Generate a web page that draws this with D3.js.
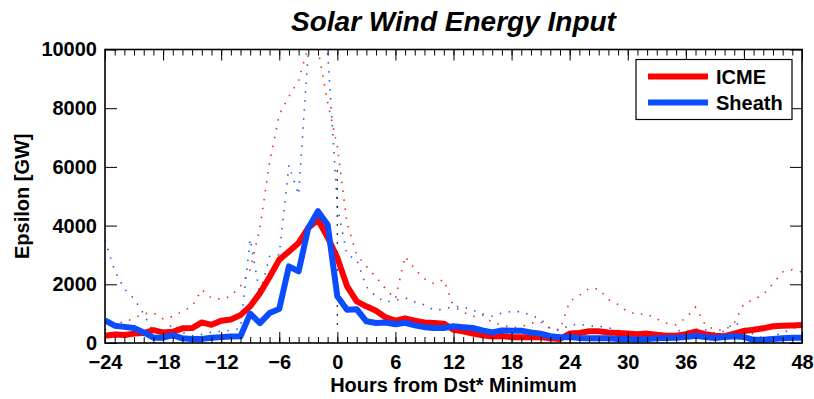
<!DOCTYPE html>
<html>
<head>
<meta charset="utf-8">
<script src="https://cdn.jsdelivr.net/npm/d3@7"></script>
<style>
  body { margin: 0; background: #fff; }
  text { font-family: "Liberation Sans", Arial, sans-serif; font-weight: bold; }
</style>
</head>
<body>
<div id="chart"></div>
<script>

// hours from Dst* minimum, -24 .. 48
var hours = d3.range(-24, 49);

// ICME median epsilon (GW)
var icme = [250, 290, 270, 320, 340, 440, 360, 380, 500, 510, 700, 620, 760, 800, 950,
  1250, 1700, 2250, 2840, 3120, 3410, 3920, 4200, 3600, 2900, 1940, 1420, 1250, 1100, 870,
  760, 840, 760, 700, 680, 660, 450, 400, 320, 260, 220, 240, 200, 200, 200, 200, 160,
  140, 320, 340, 400, 400, 360, 340, 320, 300, 320, 280, 250, 250, 300, 390, 300, 250,
  230, 320, 410, 450, 500, 570, 590, 600, 610];

// Sheath median epsilon (GW)
var sheath = [770, 590, 550, 510, 360, 180, 180, 270, 160, 140, 140, 180, 200, 220, 230,
  1000, 680, 1020, 1160, 2610, 2440, 3920, 4490, 4030, 1590, 1130, 1150, 740, 680, 700,
  640, 690, 600, 540, 510, 510, 570, 540, 510, 430, 360, 430, 420, 420, 360, 320, 230,
  200, 200, 170, 160, 160, 160, 140, 140, 120, 140, 160, 170, 180, 200, 250, 200, 170,
  200, 230, 200, 110, 110, 140, 160, 180, 180];

// upper spread (dotted) for each group
var icmeUpper = [450, 700, 700, 850, 1000, 1030, 820, 900, 1080, 1250, 1820, 1530, 1500,
  1590, 1950, 2500, 3920, 6150, 7780, 8400, 8950, 10100, 10000, 8200, 6700, 4090, 3010,
  2610, 2240, 1840, 1500, 2950, 2520, 2190, 2020, 2160, 1250, 1050, 900, 950, 700, 620,
  520, 550, 680, 720, 490, 450, 1420, 1620, 1860, 1840, 1480, 1310, 1060, 980, 980, 820,
  680, 620, 850, 1220, 620, 450, 430, 680, 1340, 1480, 1650, 2020, 2420, 2500, 2420];

var sheathUpper = [3500, 2470, 1840, 1510, 990, 360, 280, 660, 360, 250, 290, 370, 400,
  430, 500, 3540, 1650, 2950, 3010, 6060, 5050, 9950, 10300, 9900, 4660, 3010, 2840,
  1910, 1570, 1400, 1450, 1540, 1400, 1300, 1120, 1150, 1250, 1230, 1120, 990, 910, 1020,
  1070, 1070, 940, 820, 490, 430, 610, 640, 580, 570, 520, 430, 320, 300, 300, 200, 220,
  430, 400, 470, 450, 340, 400, 700, 530, 290, 160, 230, 340, 500, 570];

// black dotted marker at hour 0
var markerHours = [0, 0];
var markerValues = [620, 6000];

var xTicks = [-24, -18, -12, -6, 0, 6, 12, 18, 24, 30, 36, 42, 48];
var yTicks = [0, 2000, 4000, 6000, 8000, 10000];
var legendNames = ["ICME", "Sheath"];

var svgWidth = 814;
var svgHeight = 399;

var margin = { top: 49.5, bottom: 56, right: 12, left: 105 };
var chartWidth = svgWidth - margin.left - margin.right;
var chartHeight = svgHeight - margin.top - margin.bottom;

var svg = d3.select("#chart")
  .append("svg")
  .attr("width", svgWidth)
  .attr("height", svgHeight);

var chartGroup = svg.append("g")
  .attr("transform", `translate(${margin.left},${margin.top})`);

var xScale = d3.scaleLinear().domain([-24, 48]).range([0, chartWidth]);
var yScale = d3.scaleLinear().domain([0, 10000]).range([chartHeight, 0]);

chartGroup.append("clipPath")
  .attr("id", "plotclip")
  .append("rect")
  .attr("width", chartWidth)
  .attr("height", chartHeight);

var plot = chartGroup.append("g").attr("clip-path", "url(#plotclip)");

var line = d3.line()
  .x(d => xScale(d[0]))
  .y(d => yScale(d[1]));

// dotted spreads first
plot.append("path")
  .datum(d3.zip(hours, icmeUpper))
  .attr("d", line)
  .attr("fill", "none")
  .attr("stroke", "#ff2020")
  .attr("stroke-width", 1.6)
  .attr("stroke-dasharray", "1.5,7.5");

plot.append("path")
  .datum(d3.zip(hours, sheathUpper))
  .attr("d", line)
  .attr("fill", "none")
  .attr("stroke", "#1f58ff")
  .attr("stroke-width", 1.6)
  .attr("stroke-dasharray", "1.5,7.5");

plot.append("path")
  .datum(d3.zip(markerHours, markerValues))
  .attr("d", line)
  .attr("fill", "none")
  .attr("stroke", "#000")
  .attr("stroke-width", 1.4)
  .attr("stroke-dasharray", "1.5,7.5");

// medians
plot.append("path")
  .datum(d3.zip(hours, icme))
  .attr("d", line)
  .attr("fill", "none")
  .attr("stroke", "#ff0000")
  .attr("stroke-width", 6)
  .attr("stroke-linejoin", "round");

plot.append("path")
  .datum(d3.zip(hours, sheath))
  .attr("d", line)
  .attr("fill", "none")
  .attr("stroke", "#0a4cff")
  .attr("stroke-width", 6)
  .attr("stroke-linejoin", "round");

// axes: ticks pointing inward on all four sides
var bottomAxis = d3.axisBottom(xScale).tickValues(xTicks).tickSize(-11).tickPadding(12)
  .tickFormat(d => d < 0 ? "\u2212" + Math.abs(d) : String(d));
var bottomMinor = d3.axisBottom(xScale).tickValues(hours).tickSize(-6).tickFormat("");
var topAxis = d3.axisTop(xScale).tickValues(xTicks).tickSize(-11).tickFormat("");
var topMinor = d3.axisTop(xScale).tickValues(hours).tickSize(-6).tickFormat("");
var leftAxis = d3.axisLeft(yScale).tickValues(yTicks).tickSize(-12).tickPadding(8)
  .tickFormat(d3.format("d"));
var rightAxis = d3.axisRight(yScale).tickValues(yTicks).tickSize(-12).tickFormat("");

function styleAxis(g) {
  g.select(".domain").remove();
  g.selectAll("line").attr("stroke", "#000").attr("stroke-width", 1);
  g.selectAll("text").attr("font-size", "20px").attr("fill", "#000");
}

chartGroup.append("g").attr("transform", `translate(0,${chartHeight})`).call(bottomMinor).call(styleAxis);
chartGroup.append("g").attr("transform", `translate(0,${chartHeight})`).call(bottomAxis).call(styleAxis);
chartGroup.append("g").call(topMinor).call(styleAxis);
chartGroup.append("g").call(topAxis).call(styleAxis);
chartGroup.append("g").call(leftAxis).call(styleAxis);
chartGroup.append("g").attr("transform", `translate(${chartWidth},0)`).call(rightAxis).call(styleAxis);

chartGroup.selectAll(".tick text").attr("font-family", "'Liberation Sans', Arial, sans-serif");

// frame
chartGroup.append("rect")
  .attr("width", chartWidth)
  .attr("height", chartHeight)
  .attr("fill", "none")
  .attr("stroke", "#000")
  .attr("stroke-width", 1.6);

// legend
var legend = chartGroup.append("g")
  .attr("transform", `translate(${chartWidth - 166},${10})`);

legend.append("rect")
  .attr("width", 156)
  .attr("height", 60)
  .attr("fill", "#fff")
  .attr("stroke", "#000")
  .attr("stroke-width", 1.2);

var legendColors = ["#ff0000", "#0a4cff"];
legendNames.forEach(function(name, i) {
  legend.append("line")
    .attr("x1", 12).attr("x2", 72)
    .attr("y1", 17 + i * 26).attr("y2", 17 + i * 26)
    .attr("stroke", legendColors[i])
    .attr("stroke-width", 6);
  legend.append("text")
    .attr("x", 80)
    .attr("y", 17 + i * 26)
    .attr("dy", "0.36em")
    .attr("font-size", "20px")
    .text(name);
});

// titles
svg.append("text")
  .attr("x", margin.left + chartWidth / 2)
  .attr("y", 31)
  .attr("text-anchor", "middle")
  .attr("font-size", "28px")
  .attr("font-style", "italic")
  .text("Solar Wind Energy Input");

svg.append("text")
  .attr("x", margin.left + chartWidth / 2)
  .attr("y", 392)
  .attr("text-anchor", "middle")
  .attr("font-size", "20px")
  .text("Hours from Dst* Minimum");

svg.append("text")
  .attr("transform", "rotate(-90)")
  .attr("x", -(margin.top + chartHeight / 2))
  .attr("y", 29)
  .attr("text-anchor", "middle")
  .attr("font-size", "20px")
  .text("Epsilon [GW]");

</script>
</body>
</html>
